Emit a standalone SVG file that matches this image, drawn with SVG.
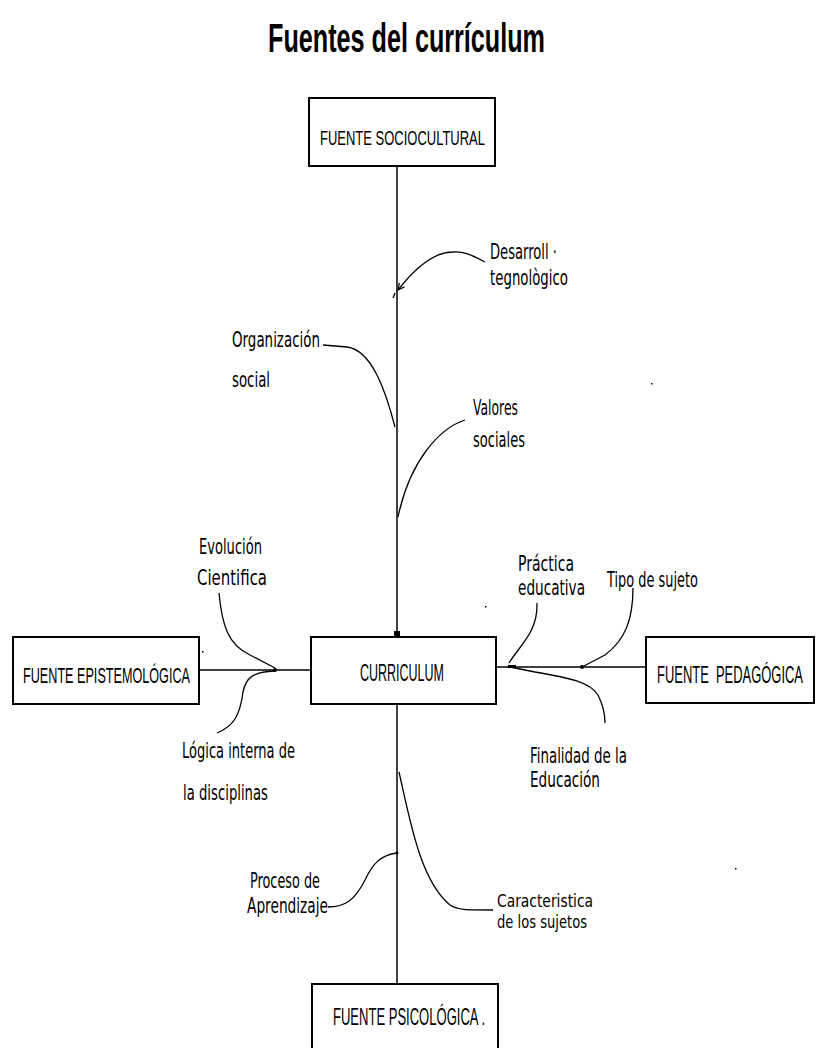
<svg xmlns="http://www.w3.org/2000/svg" width="821" height="1048" viewBox="0 0 821 1048">
<style>
.box{fill:#fff;stroke:#000;stroke-width:2}
.bt{font-family:"Liberation Sans",Arial,sans-serif;fill:#000}
.lb{font-family:"DejaVu Sans","Liberation Sans",sans-serif;font-size:21px;fill:#000}
.sm{font-size:18px}
.ln{fill:none;stroke:#000;stroke-width:1.5}
.cv{fill:none;stroke:#000;stroke-width:1.3}
</style>
<defs>
<marker id="arr" viewBox="0 0 10 10" refX="9" refY="5" markerWidth="8" markerHeight="8" orient="auto" markerUnits="userSpaceOnUse">
<path d="M1,1 L9,5 L1,9" fill="none" stroke="#000" stroke-width="1.5"/>
</marker>
</defs>
<rect width="821" height="1048" fill="#fff"/>
<text x="268" y="52" class="bt" font-size="41" font-weight="bold" textLength="277" lengthAdjust="spacingAndGlyphs">Fuentes del currículum</text>

<g id="connectors">
<line class="ln" x1="397" y1="166" x2="397" y2="632"/>
<rect x="394" y="631" width="6" height="6" fill="#000"/>
<line class="ln" x1="199" y1="670" x2="311" y2="670"/>
<line class="ln" x1="496" y1="667" x2="646" y2="667"/>
<line class="ln" x1="397" y1="704" x2="397" y2="984"/>
<path class="cv" d="M485,262 C470,254 462,251 453,252 C432,252 412,272 398,290" marker-end="url(#arr)"/>
<path class="cv" d="M393,298 L395,293"/>
<path class="cv" d="M323,345 L347,347 C372,350 386,392 395,427"/>
<path class="cv" d="M465,420 C440,428 410,460 398,517"/>
<path class="cv" d="M219,593 C222,625 228,645 250,655 L275,668"/>
<path class="cv" d="M275,671 C252,672 246,678 243,692 C240,715 234,726 217,733"/>
<circle cx="275" cy="670" r="2" fill="#000"/>
<path class="cv" d="M537,603 C538,632 520,645 509,663"/>
<path class="cv" d="M633,588 C633,620 625,640 605,655 L582,667"/>
<circle cx="582" cy="667" r="2" fill="#000"/>
<path class="cv" d="M510,667 L535,672 C570,678 590,682 598,695 C603,705 605,715 605,723"/>
<rect x="508" y="665" width="8" height="3" fill="#000"/>
<path class="cv" d="M399,772 C410,820 420,880 450,905 C458,910 465,910 493,910"/>
<path class="cv" d="M397,853 C380,855 372,865 365,880 C355,900 345,907 328,907"/>
<circle cx="397" cy="853" r="1.5" fill="#000"/>
</g>

<g id="n-sociocultural">
<rect class="box" x="309" y="98" width="186" height="68"/>
<text x="320" y="145" class="bt" font-size="21" textLength="165" lengthAdjust="spacingAndGlyphs">FUENTE SOCIOCULTURAL</text>
</g>
<g id="n-curriculum">
<rect class="box" x="311" y="637" width="185" height="67"/>
<text x="360" y="681" class="bt" font-size="24" textLength="84" lengthAdjust="spacingAndGlyphs">CURRICULUM</text>
</g>
<g id="n-epistemologica">
<rect class="box" x="13" y="637" width="186" height="67"/>
<text x="23" y="683" class="bt" font-size="22" textLength="167" lengthAdjust="spacingAndGlyphs">FUENTE EPISTEMOLÓGICA</text>
</g>
<g id="n-pedagogica">
<rect class="box" x="646" y="637" width="168" height="66"/>
<text transform="translate(657,683) scale(1,1.7)" x="0" y="0" class="bt" font-size="14" textLength="146" lengthAdjust="spacingAndGlyphs" xml:space="preserve">FUENTE  PEDAGÓGICA</text>
</g>
<g id="n-psicologica">
<rect class="box" x="312" y="984" width="186" height="80"/>
<text x="333" y="1025" class="bt" font-size="24" textLength="152" lengthAdjust="spacingAndGlyphs">FUENTE PSICOLÓGICA .</text>
</g>

<g id="labels">
<text class="lb" x="490" y="259" textLength="67" lengthAdjust="spacingAndGlyphs">Desarroll ·</text>
<text class="lb" x="490" y="285" textLength="78" lengthAdjust="spacingAndGlyphs">tegnològico</text>
<text class="lb" x="232" y="347" textLength="88" lengthAdjust="spacingAndGlyphs">Organización</text>
<text class="lb" x="232" y="387" textLength="38" lengthAdjust="spacingAndGlyphs">social</text>
<text class="lb" x="473" y="415" textLength="45" lengthAdjust="spacingAndGlyphs">Valores</text>
<text class="lb" x="473" y="447" textLength="52" lengthAdjust="spacingAndGlyphs">sociales</text>
<text class="lb" x="199" y="554" textLength="63" lengthAdjust="spacingAndGlyphs">Evolución</text>
<text class="lb" x="197" y="585" textLength="70" lengthAdjust="spacingAndGlyphs">Cientifica</text>
<text class="lb" x="182" y="758" textLength="113" lengthAdjust="spacingAndGlyphs">Lógica interna de</text>
<text class="lb" x="183" y="800" textLength="85" lengthAdjust="spacingAndGlyphs">la disciplinas</text>
<text class="lb" x="518" y="571" textLength="56" lengthAdjust="spacingAndGlyphs">Práctica</text>
<text class="lb" x="518" y="595" textLength="67" lengthAdjust="spacingAndGlyphs">educativa</text>
<text class="lb" x="607" y="587" textLength="91" lengthAdjust="spacingAndGlyphs">Tipo de sujeto</text>
<text class="lb" x="530" y="763" textLength="97" lengthAdjust="spacingAndGlyphs">Finalidad de la</text>
<text class="lb" x="530" y="787" textLength="70" lengthAdjust="spacingAndGlyphs">Educación</text>
<text class="lb sm" x="497" y="907" textLength="96" lengthAdjust="spacingAndGlyphs">Caracteristica</text>
<text class="lb sm" x="497" y="928" textLength="90" lengthAdjust="spacingAndGlyphs">de los sujetos</text>
<text class="lb" x="250" y="888" textLength="70" lengthAdjust="spacingAndGlyphs">Proceso de</text>
<text class="lb" x="247" y="913" textLength="81" lengthAdjust="spacingAndGlyphs">Aprendizaje</text>
</g>

<g id="dots" fill="#000">
<rect x="651" y="383" width="1.5" height="1.5"/>
<rect x="485" y="606" width="1.5" height="1.5"/>
<rect x="202" y="651" width="1.5" height="1.5"/>
<rect x="735" y="868" width="1.5" height="1.5"/>
</g>
</svg>
